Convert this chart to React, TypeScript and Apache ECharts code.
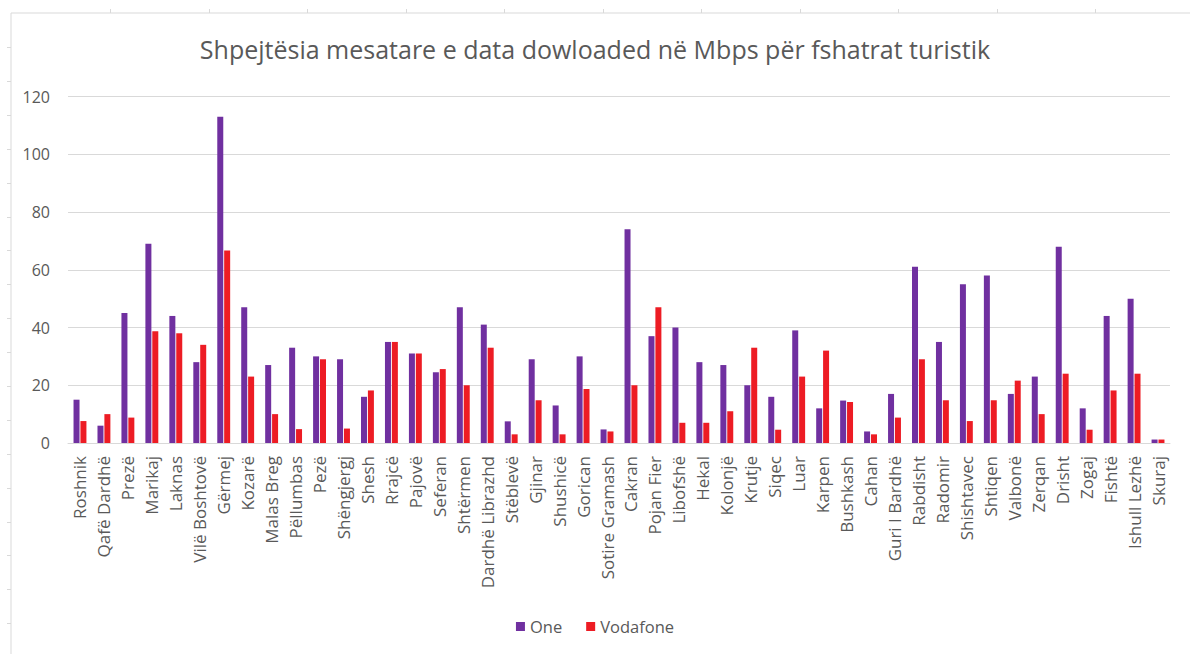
import React, { useEffect, useRef } from "react";
import * as echarts from "echarts";

const categories = [
  "Roshnik", "Qafë Dardhë", "Prezë", "Marikaj", "Laknas", "Vilë Boshtovë", "Gërmej", "Kozarë",
  "Malas Breg", "Pëllumbas", "Pezë", "Shëngjergj", "Shesh", "Rrajcë", "Pajovë", "Seferan",
  "Shtërmen", "Dardhë Librazhd", "Stëblevë", "Gjinar", "Shushicë", "Gorican", "Sotire Gramash",
  "Cakran", "Pojan Fier", "Libofshë", "Hekal", "Kolonjë", "Krutje", "Siqec", "Luar", "Karpen",
  "Bushkash", "Cahan", "Guri I Bardhë", "Rabdisht", "Radomir", "Shishtavec", "Shtiqen", "Valbonë",
  "Zerqan", "Drisht", "Zogaj", "Fishtë", "Ishull Lezhë", "Skuraj",
];

const oneValues = [
  15, 6, 45, 69, 44, 28, 113, 47,
  27, 33, 30, 29, 16, 35, 31, 24.5,
  47, 41, 7.5, 29, 13, 30, 4.7,
  74, 37, 40, 28, 27, 20, 16, 39, 12,
  14.7, 4, 17, 61, 35, 55, 58, 17,
  23, 68, 12, 44, 50, 1.2,
];

const vodafoneValues = [
  7.6, 10, 8.8, 38.7, 38, 34, 66.7, 23,
  10, 4.8, 29, 5, 18.2, 35, 31, 25.6,
  20, 33, 3, 14.8, 3, 18.7, 4,
  20, 47, 7, 7, 11, 33, 4.6, 23, 32,
  14.2, 3, 8.8, 29, 14.8, 7.6, 14.8, 21.6,
  10, 24, 4.6, 18.2, 24, 1.2,
];

const yTicks = { min: 0, max: 120, interval: 20 };
const seriesNames = ["One", "Vodafone"];
const titleText = "Shpejtësia mesatare e data dowloaded në Mbps për fshatrat turistik";

export default function App() {
  const ref = useRef<HTMLDivElement>(null);

  useEffect(() => {
    if (!ref.current) return;
    const chart = echarts.init(ref.current, null, { renderer: "svg" });

    const frameColor = "#d9d9d9";
    const frame: any[] = [
      { type: "line", shape: { x1: 11, y1: 13, x2: 1190, y2: 13 }, style: { stroke: frameColor, lineWidth: 1 } },
      { type: "line", shape: { x1: 11, y1: 13, x2: 11, y2: 654 }, style: { stroke: frameColor, lineWidth: 1 } },
    ];
    for (let x = 110; x < 1190; x += 98.5) {
      frame.push({ type: "line", shape: { x1: Math.round(x) + 0.5, y1: 9, x2: Math.round(x) + 0.5, y2: 13 }, style: { stroke: frameColor, lineWidth: 1 } });
    }
    for (let y = 47; y < 654; y += 33.9) {
      frame.push({ type: "line", shape: { x1: 7, y1: Math.round(y) + 0.5, x2: 11, y2: Math.round(y) + 0.5 }, style: { stroke: frameColor, lineWidth: 1 } });
    }

    const font = "'Open Sans', 'Noto Sans', sans-serif";

    chart.setOption({
      animation: false,
      backgroundColor: "#ffffff",
      title: {
        text: titleText,
        left: "center",
        top: 31,
        textStyle: { fontFamily: font, fontSize: 25, fontWeight: "normal", color: "#595959" },
      },
      legend: {
        data: seriesNames,
        bottom: 14,
        left: "center",
        icon: "rect",
        itemWidth: 9,
        itemHeight: 9,
        itemGap: 24,
        textStyle: { fontFamily: font, fontSize: 16.5, color: "#595959" },
      },
      grid: { left: 68, right: 20, top: 96.5, bottom: 211, containLabel: false },
      xAxis: {
        type: "category",
        data: categories,
        axisTick: { show: false },
        axisLine: { lineStyle: { color: "#d9d9d9", width: 1 } },
        axisLabel: {
          interval: 0,
          rotate: 90,
          margin: 13,
          fontFamily: font,
          fontSize: 17,
          color: "#595959",
        },
      },
      yAxis: {
        type: "value",
        min: yTicks.min,
        max: yTicks.max,
        interval: yTicks.interval,
        axisLine: { show: false },
        axisTick: { show: false },
        splitLine: { lineStyle: { color: "#d9d9d9", width: 1 } },
        axisLabel: { margin: 18, fontFamily: font, fontSize: 16, color: "#595959" },
      },
      series: [
        {
          name: seriesNames[0],
          type: "bar",
          data: oneValues,
          barWidth: 6,
          barGap: "15%",
          itemStyle: { color: "#7030A0" },
        },
        {
          name: seriesNames[1],
          type: "bar",
          data: vodafoneValues,
          barWidth: 6,
          barGap: "15%",
          itemStyle: { color: "#ED1C24" },
        },
      ],
      graphic: frame,
    });

    return () => chart.dispose();
  }, []);

  return (
    <div
      ref={ref}
      style={{ position: "fixed", left: 0, top: 0, width: 1190, height: 654, background: "#fff" }}
    />
  );
}
